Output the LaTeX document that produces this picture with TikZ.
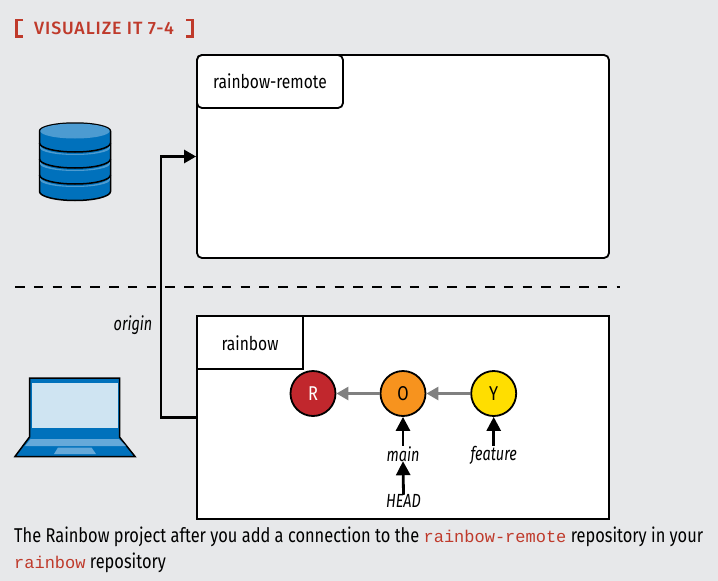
\documentclass[tikz,border=0pt]{standalone}
\usepackage{fontspec}
\setmainfont{Fira Sans}[FakeStretch=0.82]
\newfontfamily\titlefont{Fira Sans Medium}[LetterSpace=5]
\newfontfamily\reffont{Fira Sans}[FakeStretch=0.76]
\setmonofont{Liberation Mono}
\usetikzlibrary{arrows.meta}
\definecolor{bg}{HTML}{E7E8EA}
\definecolor{accent}{HTML}{BF3A2B}
\definecolor{dbblue}{HTML}{0071BC}
\definecolor{dblight}{HTML}{4C9BD1}
\definecolor{screen}{HTML}{CFE4F2}
\definecolor{lapl}{HTML}{66A9D9}
\definecolor{cR}{HTML}{C1272D}
\definecolor{cO}{HTML}{F7931E}
\definecolor{cY}{HTML}{FFDE00}
\tikzset{
  repobox/.style={draw=black,line width=1.8pt,fill=white,minimum width=412pt,minimum height=203pt,inner sep=0pt},
  tagbox/.style={draw=black,line width=1.8pt,fill=white,inner sep=0pt,font=\fontsize{19}{22}\selectfont},
  commit/.style={circle,draw=black,line width=1.8pt,minimum size=45pt,inner sep=0pt,font=\fontsize{20}{22}\selectfont},
  ref/.style={inner sep=0pt,font=\reffont\fontsize{19}{22}\selectfont\itshape},
  parentarrow/.style={draw={rgb,255:red,128;green,128;blue,128},line width=2.6pt,-{Triangle[length=12pt,width=13pt]}},
  refarrow/.style={draw=black,line width=2.8pt,-{Triangle[length=14pt,width=14pt]}},
  caption/.style={inner sep=0pt,anchor=base west,font=\fontsize{20}{22}\selectfont},
}
\newcommand{\mycode}[1]{{\ttfamily\fontsize{17}{20}\selectfont\color{accent}#1}}
\begin{document}
\begin{tikzpicture}[x=1pt,y=-1pt]
\useasboundingbox (0,0) rectangle (718,581);
\fill[bg] (0,0) rectangle (718,581);
% title
\draw[accent,line width=2.2pt] (23,20) -- (16.5,20) -- (16.5,36.5) -- (23,36.5);
\draw[accent,line width=2.2pt] (186,20) -- (192.5,20) -- (192.5,36.5) -- (186,36.5);
\node[inner sep=0pt,anchor=base west,text=accent,font=\titlefont\fontsize{17.8}{20}\selectfont] (title) at (34,34) {VISUALIZE IT 7-4};
% repositories
\node[repobox,rounded corners=5pt] (remote) at (403,156.5) {};
\node[tagbox,rounded corners=5pt,minimum width=146pt,minimum height=53pt] (remotetag) at (270,81.5) {\raisebox{-7pt}[0pt][0pt]{rainbow-remote}};
\node[repobox] (local) at (403,417.5) {};
\node[tagbox,minimum width=106pt,minimum height=53pt] (localtag) at (250,342.5) {\raisebox{-7.5pt}[0pt][0pt]{rainbow}};
% separator
\coordinate (sepL) at (15,287);
\coordinate (sepR) at (620,287);
\draw[line width=1.8pt,dash pattern=on 9.5pt off 9.3pt] (sepL) -- (sepR);
% origin connector
\draw[line width=2.6pt,-{Triangle[length=12pt,width=13pt]}] (local.west) -- ++(-35,0) |- (remote.west);
\node[ref] (origin) at (133,325) {origin};
% database icon
\begin{scope}
\draw[line width=1.5pt,fill=dbblue] (39.5,131) -- (39.5,191.5) arc[start angle=180,end angle=0,x radius=35.5,y radius=9] -- (110.5,131) arc[start angle=0,end angle=-180,x radius=35.5,y radius=8] -- cycle;
\foreach \y in {143,159,175}{
  \fill[dblight] (40.2,\y+2) arc[start angle=180,end angle=0,x radius=34.8,y radius=9] -- ++(0,3) arc[start angle=0,end angle=180,x radius=34.8,y radius=7] -- cycle;
  \draw[line width=1.5pt] (39.5,\y) arc[start angle=180,end angle=0,x radius=35.5,y radius=9];
}
\fill[dblight] (40.3,131) arc[start angle=180,end angle=0,x radius=34.7,y radius=7.5] arc[start angle=0,end angle=-180,x radius=34.7,y radius=7.5] -- cycle;
\end{scope}
% laptop icon
\begin{scope}
\draw[line width=1.5pt,fill=dbblue] (29.5,378) -- (119.5,378) -- (119.5,437) -- (135,456.5) -- (15,456.5) -- (29.5,437) -- cycle;
\fill[screen] (31.5,383) rectangle (117.5,428);
\fill[lapl] (30.5,439) -- (119,439) -- (126,446) -- (25,446) -- cycle;
\fill[lapl] (58,447.5) -- (91.5,447.5) -- (96,454) -- (54,454) -- cycle;
\end{scope}
% commits
\node[commit,fill=cR,text=white] (R) at (313,393.5) {R};
\node[commit,fill=cO] (O) at (403,393.5) {O};
\node[commit,fill=cY] (Y) at (493.7,393.5) {Y};
\draw[parentarrow] (O) -- (R);
\draw[parentarrow] (Y) -- (O);
% refs
\node[ref] (main) at (403,454.5) {main};
\node[ref] (feature) at (493.7,455.5) {feature};
\node[ref] (head) at (403.5,500.5) {HEAD};
\draw[refarrow] (main.north) ++(0,-1) -- (O);
\draw[refarrow] (feature.north) ++(0,-0.5) -- (Y);
\draw[refarrow] (head.north) ++(0,1) -- ([yshift=1pt]main.south);
% caption
\node[caption] (cap1) at (14,542) {The Rainbow project after you add a connection to the \mycode{rainbow-remote} repository in your};
\node[caption] (cap2) at (14,568) {\mycode{rainbow} repository};
\end{tikzpicture}
\end{document}
